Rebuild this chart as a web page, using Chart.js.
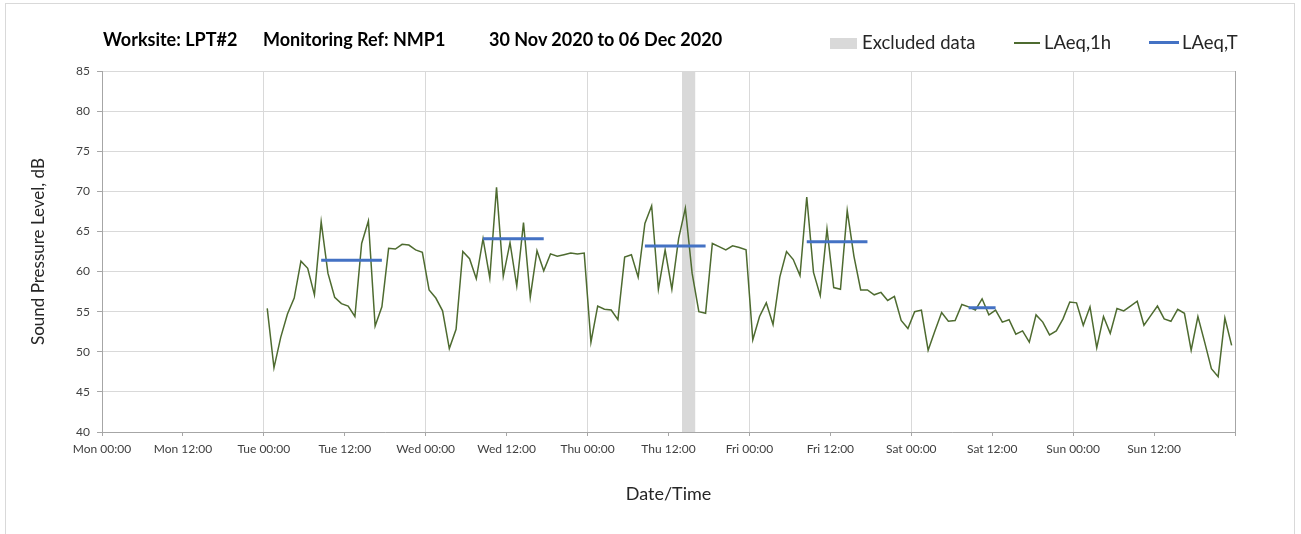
<!DOCTYPE html>
<html>
<head>
<meta charset="utf-8">
<script src="https://cdn.jsdelivr.net/npm/chart.js@4/dist/chart.umd.min.js"></script>
<style>
  html, body { margin: 0; padding: 0; background: #ffffff; }
  #wrap { position: relative; width: 1301px; height: 534px; overflow: hidden; font-family: Lato, "Open Sans", sans-serif; }
  #frame { position: absolute; left: 5px; top: 3px; width: 1290px; height: 560px; border: 1px solid #d9d9d9; box-sizing: border-box; }
  canvas { position: absolute; left: 0; top: 0; }
  .title { position: absolute; top: 28px; font-weight: bold; font-size: 18px; color: #000; white-space: nowrap; }
  .leg { position: absolute; top: 31px; font-size: 18.5px; color: #262626; white-space: nowrap; }
  .sw { position: absolute; }
</style>
</head>
<body>
<div id="wrap">
  <div id="frame"></div>
  <canvas id="c" width="1301" height="534"></canvas>
  <span class="title" style="left:103px">Worksite: LPT#2</span>
  <span class="title" style="left:263px">Monitoring Ref: NMP1</span>
  <span class="title" style="left:489px">30 Nov 2020 to 06 Dec 2020</span>
  <div class="sw" style="left:830px;top:38px;width:27px;height:11px;background:#d9d9d9"></div>
  <span class="leg" style="left:862px">Excluded data</span>
  <div class="sw" style="left:1014px;top:42px;width:26px;height:1.5px;background:#4e6b30"></div>
  <span class="leg" style="left:1044px">LAeq,1h</span>
  <div class="sw" style="left:1149px;top:41px;width:30px;height:3px;background:#4472c4"></div>
  <span class="leg" style="left:1182px">LAeq,T</span>
</div>
<script>
// ---- data ----
const tickLabels = ['Mon 00:00','Mon 12:00','Tue 00:00','Tue 12:00','Wed 00:00','Wed 12:00','Thu 00:00','Thu 12:00','Fri 00:00','Fri 12:00','Sat 00:00','Sat 12:00','Sun 00:00','Sun 12:00'];
const seriesStartHour = 24.5; // hourly LAeq,1h values start Tue 00:30 (hours from Mon 00:00)
const tueValues = [55.4, 48.0, 51.8, 54.7, 56.7, 61.3, 60.4, 57.1, 66.2, 59.8, 56.8, 56.0, 55.7, 54.4, 63.5, 66.3, 53.2, 55.6, 62.9, 62.8, 63.4, 63.3, 62.7, 62.4];
const wedValues = [57.7, 56.7, 55.1, 50.4, 52.8, 62.5, 61.6, 59.1, 64.1, 59.2, 70.5, 59.4, 63.6, 58.2, 66.1, 56.8, 62.6, 60.1, 62.2, 61.9, 62.1, 62.3, 62.2, 62.3];
const thuValues = [51.2, 55.7, 55.3, 55.2, 54.0, 61.8, 62.1, 59.3, 66.0, 68.2, 57.8, 62.7, 57.8, 64.1, 67.9, 59.8, 55.0, 54.8, 63.5, 63.1, 62.7, 63.2, 63.0, 62.7];
const friValues = [51.5, 54.4, 56.1, 53.4, 59.3, 62.5, 61.5, 59.5, 69.3, 59.9, 57.0, 65.3, 58.0, 57.8, 67.6, 61.9, 57.7, 57.7, 57.1, 57.4, 56.4, 56.9, 53.9, 52.9];
const satValues = [55.0, 55.2, 50.2, 52.6, 54.9, 53.8, 53.9, 55.9, 55.6, 55.2, 56.6, 54.6, 55.2, 53.7, 54.0, 52.2, 52.6, 51.2, 54.6, 53.7, 52.1, 52.6, 54.1, 56.2];
const sunValues = [56.1, 53.3, 55.6, 50.5, 54.4, 52.3, 55.4, 55.1, 55.7, 56.3, 53.3, 54.5, 55.7, 54.1, 53.8, 55.3, 54.8, 50.2, 54.4, 51.2, 47.9, 46.9, 54.2, 50.8];
const laeqTStart = [32.5, 56.5, 80.5, 104.5, 128.5];
const laeqTEnd   = [41.5, 65.5, 89.5, 113.5, 132.5];
const laeqTValue = [61.4, 64.1, 63.2, 63.7, 55.5];
const excludedStart = [86];
const excludedEnd = [88];

// ---- build datasets ----
const hourly = [].concat(tueValues, wedValues, thuValues, friValues, satValues, sunValues);
const hourlyPts = hourly.map((v, i) => ({x: seriesStartHour + i, y: v}));
const tPts = [];
laeqTValue.forEach((v, i) => {
  tPts.push({x: laeqTStart[i], y: v}, {x: laeqTEnd[i], y: v});
  if (i < laeqTValue.length - 1) tPts.push({x: (laeqTEnd[i] + laeqTStart[i + 1]) / 2, y: null});
});
const exclPts = [];
excludedStart.forEach((s, i) => { exclPts.push({x: s, y: 85}, {x: excludedEnd[i], y: 85}); });

const FONT = 'Lato, "Open Sans", sans-serif';
new Chart(document.getElementById('c'), {
  type: 'line',
  data: {
    datasets: [
      { label: 'Excluded data', data: exclPts, borderWidth: 0, borderColor: 'rgba(0,0,0,0)', backgroundColor: '#d9d9d9', fill: 'start', pointRadius: 0, order: 3 },
      { label: 'LAeq,1h', data: hourlyPts, borderColor: '#4e6b30', borderWidth: 1.5, pointRadius: 0, tension: 0, fill: false, order: 2 },
      { label: 'LAeq,T', data: tPts, borderColor: '#4472c4', borderWidth: 3, pointRadius: 0, spanGaps: false, fill: false, order: 1 }
    ]
  },
  options: {
    responsive: false,
    animation: false,
    devicePixelRatio: 1,
    layout: { padding: { left: 0, top: 71, right: 66, bottom: 0 } },
    plugins: { legend: { display: false }, title: { display: false }, tooltip: { enabled: false } },
    scales: {
      x: {
        type: 'linear', min: 0, max: 168,
        afterFit: (s) => { s.height = 102; },
        ticks: {
          stepSize: 12, autoSkip: false, maxRotation: 0, padding: 6,
          color: '#404040', font: { family: FONT, size: 12 },
          callback: (v) => tickLabels[v / 12] ?? ''
        },
        grid: {
          color: (ctx) => { const v = ctx.tick ? ctx.tick.value : 0; if (v === 168) return '#a6a6a6'; return (v % 24 === 0 && v !== 0) ? '#d9d9d9' : 'rgba(0,0,0,0)'; },
          tickColor: '#a6a6a6', tickLength: 4, lineWidth: 1
        },
        border: { display: true, color: '#a6a6a6' },
        title: { display: true, text: 'Date/Time', color: '#262626', font: { family: FONT, size: 18 }, padding: { top: 0, bottom: 29 } }
      },
      y: {
        min: 40, max: 85,
        afterFit: (s) => { s.width = 102; },
        ticks: { stepSize: 5, padding: 7, color: '#404040', font: { family: FONT, size: 12 } },
        grid: { color: '#d9d9d9', tickColor: '#a6a6a6', tickLength: 5 },
        border: { display: true, color: '#a6a6a6' },
        title: { display: true, text: 'Sound Pressure Level, dB', color: '#262626', font: { family: FONT, size: 17 }, padding: { top: 28, bottom: 0 } }
      }
    }
  }
});
</script>
</body>
</html>
